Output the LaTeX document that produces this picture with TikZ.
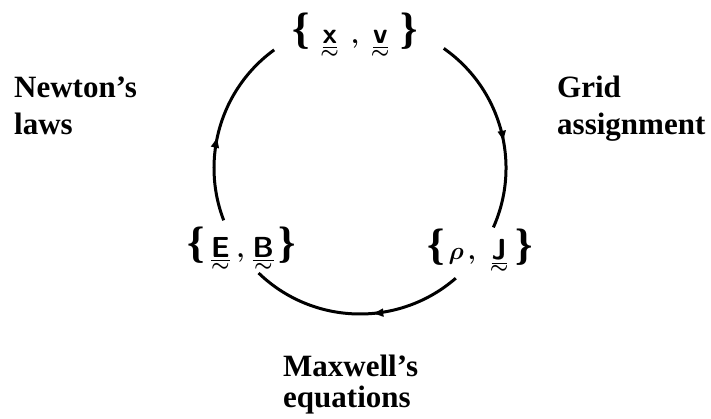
\documentclass[tikz,border=0pt]{standalone}
\usepackage{amsmath}
\usepackage{fontspec}
\setmainfont{Liberation Serif}
\usetikzlibrary{arrows.meta,decorations.markings,calc}
% vector: underbar with a small tilde below
\newcommand{\tvec}[1]{\vtop{\offinterlineskip\halign{\hfil##\hfil\cr
  $\underline{\mathsf{#1}}$\cr\noalign{\kern1pt}$\scriptstyle\sim$\cr}}}
\newcommand{\lbr}{{\fontsize{44}{44}\selectfont\bfseries\{}}
\newcommand{\rbr}{{\fontsize{44}{44}\selectfont\bfseries\}}}

\begin{document}
\begin{tikzpicture}[x=1pt, y=1pt,
    vecset/.style={inner sep=0pt, anchor=base,
                   font=\fontsize{29}{34}\selectfont\boldmath},
    lbl/.style={inner sep=0pt, align=left, anchor=base west,
                font=\fontsize{31}{37}\selectfont\bfseries},
    arr/.style={line width=3pt, postaction={decorate},
                decoration={markings, mark=at position #1 with
                  {\arrow{Latex[length=12pt,width=9pt]}}}}]

  \useasboundingbox (0,0) rectangle (711,418);
  \coordinate (c) at (360,250);

  %% Quantities
  \node[vecset] (xv) at (355,374)
    {\lbr\hspace{11pt}$\tvec{x}$\hspace{12pt}$,$\hspace{12pt}$\tvec{v}$\hspace{11pt}\rbr};
  \node[vecset] (eb) at (242,161)
    {\lbr\hspace{6pt}$\tvec{E}$\hspace{7pt}$,$\hspace{8pt}$\tvec{B}$\hspace{5pt}\rbr};
  \node[vecset] (rj) at (480,159)
    {\lbr\hspace{4pt}$\rho$\hspace{4pt}$,$\hspace{14pt}$\tvec{J}$\hspace{7pt}\rbr};

  %% Ends of the arcs on the cycle
  \coordinate (xv-l) at ($(c)+(126:146)$);
  \coordinate (xv-r) at ($(c)+(55:146)$);
  \coordinate (eb-t) at ($(c)+(201:146)$);
  \coordinate (eb-b) at ($(c)+(226:146)$);
  \coordinate (rj-t) at ($(c)+(-24:146)$);
  \coordinate (rj-b) at ($(c)+(-49:146)$);

  \draw[arr=0.45] (eb-t) arc[start angle=201, end angle=126, radius=146];
  \draw[arr=0.57] (xv-r) arc[start angle=55, end angle=-24, radius=146];
  \draw[arr=0.43] (rj-b) arc[start angle=-49, end angle=-134, radius=146];

  %% Step labels
  \node[lbl] (newton) at (14,283) {Newton’s\\laws};
  \node[lbl] (grid) at (557,283) {Grid\\assignment};
  \node[lbl, font=\fontsize{31}{31}\selectfont\bfseries] (maxwell) at (283,11)
    {Maxwell’s\\equations};
\end{tikzpicture}
\end{document}
